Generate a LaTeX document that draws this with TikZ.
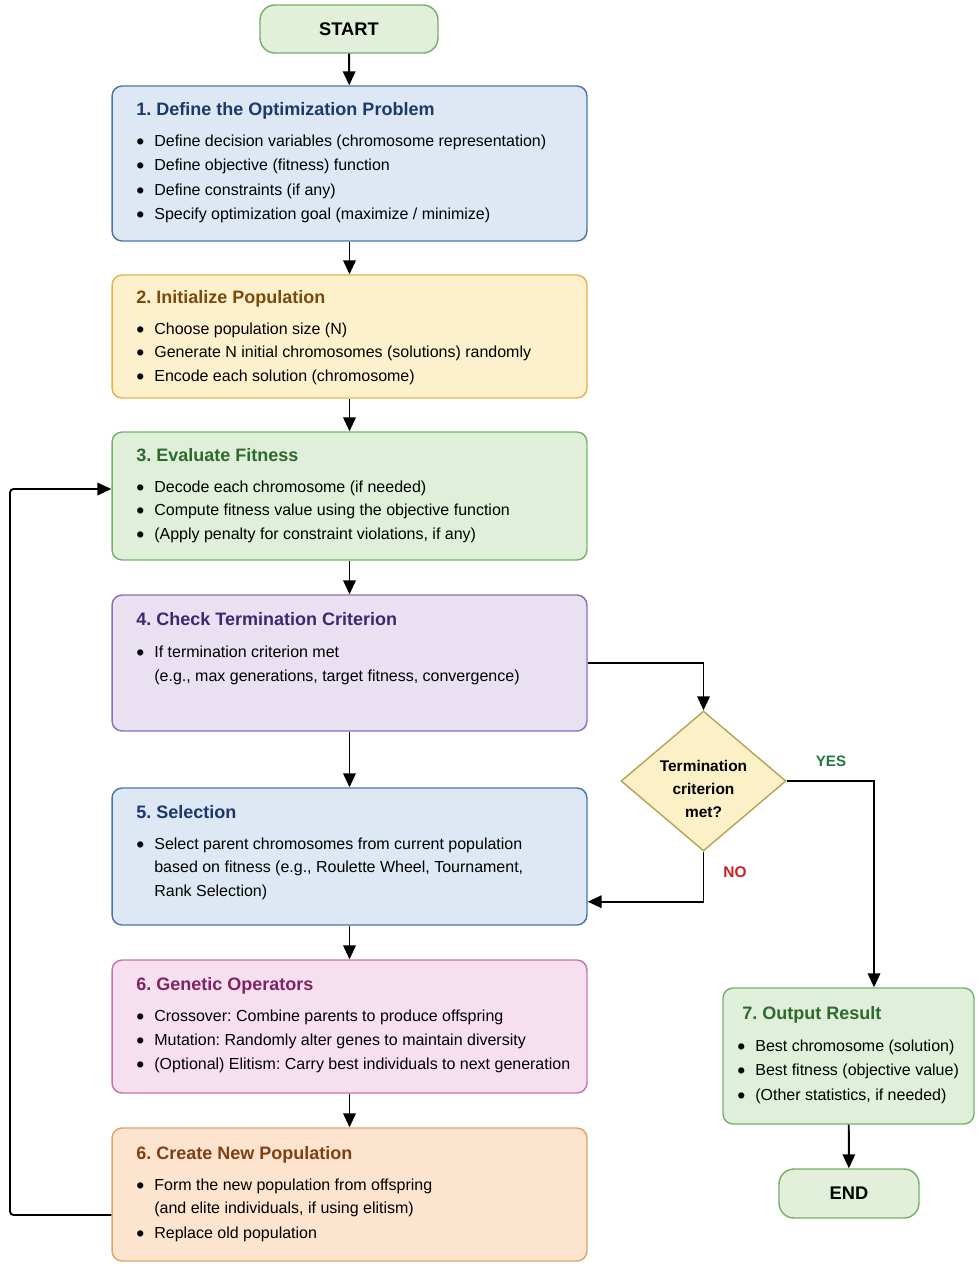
\documentclass[tikz,border=0pt]{standalone}
\usepackage{fontspec}
\setmainfont{Liberation Sans}
\usetikzlibrary{arrows.meta,shapes.geometric}

% colours of the steps
\definecolor{blueFill}{HTML}{DDE8F4}
\definecolor{blueLine}{HTML}{4A74A8}
\definecolor{blueText}{HTML}{1B3A6B}
\definecolor{yellowFill}{HTML}{FDF1CD}
\definecolor{yellowLine}{HTML}{E2B448}
\definecolor{yellowText}{HTML}{7A4A0E}
\definecolor{greenFill}{HTML}{DFEFD9}
\definecolor{greenLine}{HTML}{74B36A}
\definecolor{greenText}{HTML}{2D6A2D}
\definecolor{purpleFill}{HTML}{E9E1F2}
\definecolor{purpleLine}{HTML}{8A6FB3}
\definecolor{purpleText}{HTML}{3F2670}
\definecolor{pinkFill}{HTML}{F6E0F0}
\definecolor{pinkLine}{HTML}{C173B1}
\definecolor{pinkText}{HTML}{7E2363}
\definecolor{orangeFill}{HTML}{FCE4CE}
\definecolor{orangeLine}{HTML}{E2A266}
\definecolor{orangeText}{HTML}{7F4012}
\definecolor{diaFill}{HTML}{FBF0C6}
\definecolor{diaLine}{HTML}{B5A25A}
\definecolor{termFill}{HTML}{E2F0D9}
\definecolor{termLine}{HTML}{76AE66}
\definecolor{yesGreen}{HTML}{1E7A3C}
\definecolor{noRed}{HTML}{C8201E}

\newcommand{\gabul}{\llap{\raisebox{-1.5pt}{\fontsize{13}{13}\selectfont\textbullet}\hspace{0.2cm}}}

\begin{document}
\frenchspacing
\begin{tikzpicture}[x=0.02cm, y=-0.02cm,
  stepbox/.style={draw, rounded corners=0.2cm, line width=0.8pt, minimum width=9.5cm, inner sep=0pt},
  termbox/.style={draw=termLine, fill=termFill, rounded corners=0.3cm, line width=0.8pt, inner sep=0pt, font=\fontsize{10.4}{12}\selectfont\bfseries},
  steptitle/.style={anchor=mid west, inner sep=0pt, yshift=-0.04cm, font=\fontsize{10.25}{12}\selectfont\bfseries},
  item/.style={anchor=mid west, inner sep=0pt, yshift=-0.04cm, font=\fontsize{9.1}{11}\selectfont},
  flow/.style={line width=1.1pt, -{Triangle[length=0.28cm,width=0.25cm]}},
]
\useasboundingbox (0,0) rectangle (979,1267);

% START
\node[termbox, minimum width=3.56cm, minimum height=0.96cm] (start) at (349,29) {START};

% Step 1
\node[stepbox, draw=blueLine, fill=blueFill, minimum height=3.1cm] (define) at (349.5,163.5) {};
\node[steptitle, text=blueText] (defineT) at (136,109) {1. Define the Optimization Problem};
\node[item] (defineA) at (154,140) {\gabul Define decision variables (chromosome representation)};
\node[item] (defineB) at (154,164) {\gabul Define objective (fitness) function};
\node[item] (defineC) at (154,189) {\gabul Define constraints (if any)};
\node[item] (defineD) at (154,213) {\gabul Specify optimization goal (maximize / minimize)};

% Step 2
\node[stepbox, draw=yellowLine, fill=yellowFill, minimum height=2.46cm] (init) at (349.5,336.5) {};
\node[steptitle, text=yellowText] (initT) at (136,297) {2. Initialize Population};
\node[item] (initA) at (154,328) {\gabul Choose population size (N)};
\node[item] (initB) at (154,351) {\gabul Generate N initial chromosomes (solutions) randomly};
\node[item] (initC) at (154,375) {\gabul Encode each solution (chromosome)};

% Step 3
\node[stepbox, draw=greenLine, fill=greenFill, minimum height=2.56cm] (fitness) at (349.5,496) {};
\node[steptitle, text=greenText] (fitnessT) at (136,455) {3. Evaluate Fitness};
\node[item] (fitnessA) at (154,486) {\gabul Decode each chromosome (if needed)};
\node[item] (fitnessB) at (154,509) {\gabul Compute fitness value using the objective function};
\node[item] (fitnessC) at (154,533) {\gabul (Apply penalty for constraint violations, if any)};

% Step 4
\node[stepbox, draw=purpleLine, fill=purpleFill, minimum height=2.72cm] (term) at (349.5,663) {};
\node[steptitle, text=purpleText] (termT) at (136,619) {4. Check Termination Criterion};
\node[item] (termA) at (154,651) {\gabul If termination criterion met};
\node[item] (termB) at (154,675) {(e.g., max generations, target fitness, convergence)};

% Step 5
\node[stepbox, draw=blueLine, fill=blueFill, minimum height=2.74cm] (select) at (349.5,856.5) {};
\node[steptitle, text=blueText] (selectT) at (136,812) {5. Selection};
\node[item] (selectA) at (154,843) {\gabul Select parent chromosomes from current population};
\node[item] (selectB) at (154,866) {based on fitness (e.g., Roulette Wheel, Tournament,};
\node[item] (selectC) at (154,890) {Rank Selection)};

% Step 6
\node[stepbox, draw=pinkLine, fill=pinkFill, minimum height=2.66cm] (genop) at (349.5,1026.5) {};
\node[steptitle, text=pinkText] (genopT) at (136,984) {6. Genetic Operators};
\node[item] (genopA) at (154,1015) {\gabul Crossover: Combine parents to produce offspring};
\node[item] (genopB) at (154,1039) {\gabul Mutation: Randomly alter genes to maintain diversity};
\node[item] (genopC) at (154,1063) {\gabul (Optional) Elitism: Carry best individuals to next generation};

% Step 6 (new population)
\node[stepbox, draw=orangeLine, fill=orangeFill, minimum height=2.66cm] (newpop) at (349.5,1194.5) {};
\node[steptitle, text=orangeText] (newpopT) at (136,1153) {6. Create New Population};
\node[item] (newpopA) at (154,1184) {\gabul Form the new population from offspring};
\node[item] (newpopB) at (154,1207) {(and elite individuals, if using elitism)};
\node[item] (newpopC) at (154,1232) {\gabul Replace old population};

% Decision
\node[diamond, draw=diaLine, fill=diaFill, line width=0.8pt, minimum width=3.3cm, minimum height=2.8cm, inner sep=0pt] (check) at (703.5,781) {};
\node[align=center, inner sep=0pt, font=\fontsize{8.8}{13}\selectfont\bfseries] (checkT) at (703.5,789) {Termination\\criterion\\met?};
\node[font=\fontsize{8.6}{10}\selectfont\bfseries, text=yesGreen] (yes) at (831,761) {YES};
\node[font=\fontsize{8.8}{10}\selectfont\bfseries, text=noRed] (no) at (735,872) {NO};

% Step 7
\node[stepbox, draw=greenLine, fill=greenFill, minimum width=5.02cm, minimum height=2.72cm] (output) at (848.5,1056) {};
\node[steptitle, text=greenText] (outputT) at (742,1013) {7. Output Result};
\node[item] (outputA) at (755,1045) {\gabul Best chromosome (solution)};
\node[item] (outputB) at (755,1069) {\gabul Best fitness (objective value)};
\node[item] (outputC) at (755,1094) {\gabul (Other statistics, if needed)};

% END
\node[termbox, minimum width=2.8cm, minimum height=0.98cm] (end) at (849,1193.5) {END};

% connectors
\draw[flow] (start) -- (define);
\draw[flow] (define) -- (init);
\draw[flow] (init) -- (fitness);
\draw[flow] (fitness) -- (term);
\draw[flow] (term) -- (select);
\draw[flow] (select) -- (genop);
\draw[flow] (genop) -- (newpop);
\draw[flow] (term.east) -| (check.north);
\draw[flow] (check.east) -| ([xshift=0.51cm]output.north);
\draw[flow] (check.south) |- ([yshift=0.48cm]select.south east);
\coordinate (loop) at (10,1215);
\draw[flow, rounded corners=2pt] ([yshift=-0.41cm]newpop.west) -- (loop) |- ([yshift=0.14cm]fitness.west);
\draw[flow] (output) -- (end);
\end{tikzpicture}
\end{document}
